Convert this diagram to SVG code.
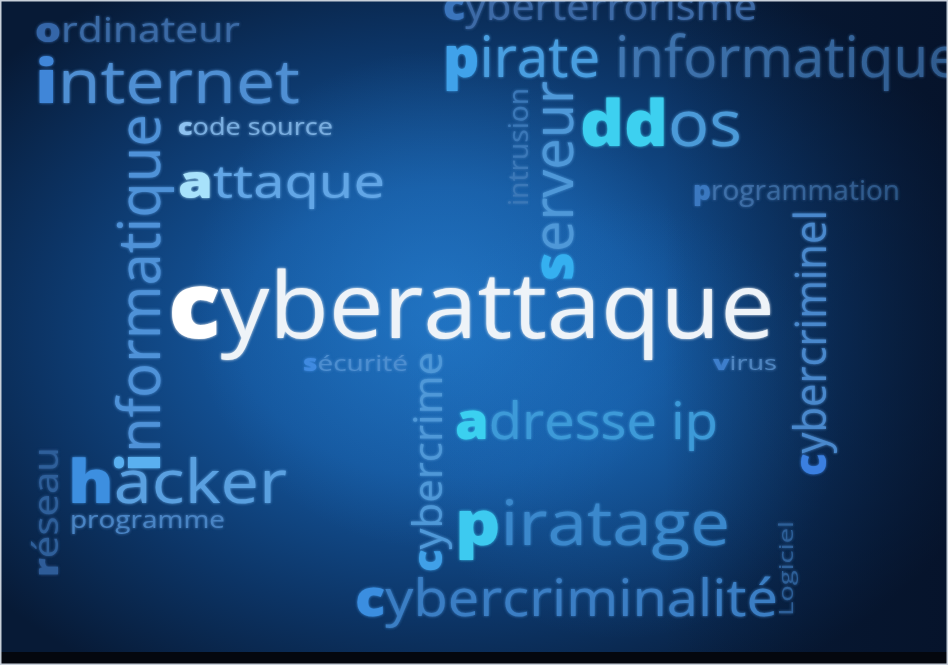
<svg xmlns="http://www.w3.org/2000/svg" width="948" height="665" viewBox="0 0 948 665">
<defs>
<radialGradient id="bg" cx="0.47" cy="0.5" r="0.62" gradientUnits="objectBoundingBox">
<stop offset="0" stop-color="#1864b0"/>
<stop offset="0.35" stop-color="#14559b"/>
<stop offset="0.7" stop-color="#0c3465"/>
<stop offset="1" stop-color="#071a36"/>
</radialGradient>
<radialGradient id="glow1" cx="440" cy="300" r="250" gradientUnits="userSpaceOnUse">
<stop offset="0" stop-color="#2a84d6" stop-opacity="0.5"/>
<stop offset="1" stop-color="#2a84d6" stop-opacity="0"/>
</radialGradient>
<radialGradient id="glow2" cx="620" cy="420" r="220" gradientUnits="userSpaceOnUse">
<stop offset="0" stop-color="#1f78cc" stop-opacity="0.3"/>
<stop offset="1" stop-color="#1f78cc" stop-opacity="0"/>
</radialGradient>
<linearGradient id="rightfade" x1="0" y1="0" x2="1" y2="0">
<stop offset="0.7" stop-color="#050f24" stop-opacity="0"/>
<stop offset="1" stop-color="#050f24" stop-opacity="0.6"/>
</linearGradient>
<linearGradient id="fadeInfo" x1="600" y1="0" x2="948" y2="0" gradientUnits="userSpaceOnUse">
<stop offset="0" stop-color="#4178b4"/>
<stop offset="1" stop-color="#2f5b8e"/>
</linearGradient>
<linearGradient id="fadeProg" x1="693" y1="0" x2="900" y2="0" gradientUnits="userSpaceOnUse">
<stop offset="0" stop-color="#4275b0"/>
<stop offset="1" stop-color="#2c5585"/>
</linearGradient>
<filter id="soft" x="-10%" y="-30%" width="120%" height="160%">
<feGaussianBlur in="SourceGraphic" stdDeviation="1.6" result="b"/>
<feMerge><feMergeNode in="b"/><feMergeNode in="SourceGraphic"/></feMerge>
</filter>
<style>
text{font-family:"Open Sans","DejaVu Sans",sans-serif;font-weight:400;}
.b{font-weight:800;}
</style>
</defs>

<rect x="0" y="0" width="948" height="665" fill="url(#bg)"/>
<rect x="0" y="0" width="948" height="665" fill="url(#glow1)"/>
<rect x="0" y="0" width="948" height="665" fill="url(#glow2)"/>
<rect x="0" y="0" width="948" height="665" fill="url(#rightfade)"/>
<rect x="0" y="652" width="948" height="13" fill="#04070e"/>

<g id="words" filter="url(#soft)">
<g id="cyberterrorisme"><text x="443" y="20" font-size="38" fill="#3d6aa6" textLength="314" lengthAdjust="spacingAndGlyphs"><tspan class="b" fill="#3a74bc">c</tspan>yberterrorisme</text></g>
<g id="pirate-informatique"><text x="443" y="77" font-size="56" fill="url(#fadeInfo)" textLength="517" lengthAdjust="spacingAndGlyphs"><tspan class="b" fill="#3fa2ea">p</tspan><tspan fill="#4a9ee0">irate</tspan> informatique</text></g>
<g id="ordinateur"><text x="35" y="42" font-size="34" fill="#3a6aa5" textLength="205" lengthAdjust="spacingAndGlyphs"><tspan class="b" fill="#3566a8">o</tspan>rdinateur</text></g>
<g id="internet"><text x="35" y="103" font-size="60" fill="#4f8fd3" textLength="265" lengthAdjust="spacingAndGlyphs"><tspan class="b" fill="#3f86d8">i</tspan>nternet</text></g>
<g id="code-source"><text x="178" y="135" font-size="23" fill="#7aaee0" textLength="155" lengthAdjust="spacingAndGlyphs"><tspan class="b" fill="#8ec2f0">c</tspan>ode source</text></g>
<g id="attaque"><text x="178" y="198" font-size="46" fill="#62a6e6" textLength="207" lengthAdjust="spacingAndGlyphs"><tspan class="b" fill="#a8e2fb">a</tspan>ttaque</text></g>
<g id="informatique"><text transform="translate(160,472) rotate(-90)" font-size="58" fill="#4f92d8" textLength="358" lengthAdjust="spacingAndGlyphs"><tspan class="b" fill="#5ab0f0">i</tspan>nformatique</text></g>
<g id="intrusion"><text transform="translate(528,206) rotate(-90)" font-size="27" fill="#3b78b8" textLength="118" lengthAdjust="spacingAndGlyphs">intrusion</text></g>
<g id="serveur"><text transform="translate(573,281) rotate(-90)" font-size="56" fill="#4f98d8" textLength="200" lengthAdjust="spacingAndGlyphs"><tspan class="b" fill="#35b0f0">s</tspan>erveur</text></g>
<g id="ddos"><text x="580" y="146" font-size="64" fill="#4c9ad8" textLength="162" lengthAdjust="spacingAndGlyphs"><tspan class="b" fill="#3cd0f0">dd</tspan>os</text></g>
<g id="programmation"><text x="693" y="200" font-size="27" fill="url(#fadeProg)" textLength="207" lengthAdjust="spacingAndGlyphs"><tspan class="b" fill="#3a78c0">p</tspan>rogrammation</text></g>
<g id="cyberattaque"><text x="168" y="338" font-size="92" fill="#eef3f8" textLength="607" lengthAdjust="spacingAndGlyphs"><tspan class="b" fill="#ffffff">c</tspan>yberattaque</text></g>
<g id="securite"><text x="303" y="371" font-size="22" fill="#4d8ed0" textLength="105" lengthAdjust="spacingAndGlyphs"><tspan class="b" fill="#3f8ae0">s</tspan>écurité</text></g>
<g id="virus"><text x="713" y="370" font-size="20" fill="#4f85c0" textLength="64" lengthAdjust="spacingAndGlyphs"><tspan class="b" fill="#3e7ecb">v</tspan>irus</text></g>
<g id="cybercriminel"><text transform="translate(826,476) rotate(-90)" font-size="44" fill="#4a88cc" textLength="266" lengthAdjust="spacingAndGlyphs"><tspan class="b" fill="#3a7fe0">c</tspan>ybercriminel</text></g>
<g id="cybercrime"><text transform="translate(442,572) rotate(-90)" font-size="40" fill="#4f98d8" textLength="220" lengthAdjust="spacingAndGlyphs"><tspan class="b" fill="#3fa0e8">c</tspan>ybercrime</text></g>
<g id="adresse-ip"><text x="455" y="439" font-size="52" fill="#3d9ad8" textLength="263" lengthAdjust="spacingAndGlyphs"><tspan class="b" fill="#3ad0f0">a</tspan>dresse ip</text></g>
<g id="hacker"><text x="68" y="503" font-size="60" fill="#5aa0e0" textLength="219" lengthAdjust="spacingAndGlyphs"><tspan class="b" fill="#3d8fe0">h</tspan>acker</text></g>
<g id="programme"><text x="70" y="528" font-size="24" fill="#4a84c4" textLength="155" lengthAdjust="spacingAndGlyphs">programme</text></g>
<g id="reseau"><text transform="translate(58,577) rotate(-90)" font-size="34" fill="#2f5f9a" textLength="130" lengthAdjust="spacingAndGlyphs"><tspan class="b" fill="#2d5c98">r</tspan>éseau</text></g>
<g id="piratage"><text x="455" y="545" font-size="62" fill="#3a88cc" textLength="275" lengthAdjust="spacingAndGlyphs"><tspan class="b" fill="#3ccaf0">p</tspan>iratage</text></g>
<g id="cybercriminalite"><text x="355" y="616" font-size="52" fill="#3a7ec4" textLength="423" lengthAdjust="spacingAndGlyphs"><tspan class="b" fill="#3a8ee0">c</tspan>ybercriminalité</text></g>
<g id="logiciel"><text transform="translate(793,616) rotate(-90)" font-size="20" fill="#2d5f98" textLength="95" lengthAdjust="spacingAndGlyphs">Logiciel</text></g>
</g>

<rect x="0.75" y="0.75" width="946.5" height="663.5" fill="none" stroke="#c8d0da" stroke-width="1.5"/>
</svg>
